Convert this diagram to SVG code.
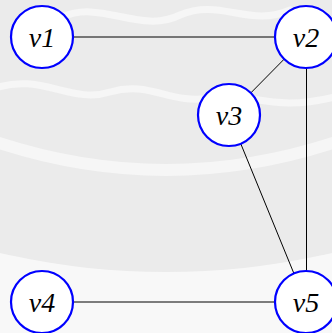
<svg xmlns="http://www.w3.org/2000/svg" width="332" height="333" viewBox="0 0 332 333">
<style>
.node circle{fill:#fff;stroke:#0000ff;stroke-width:2.2}
.node text{font-family:"Liberation Serif","DejaVu Serif",serif;font-style:italic;font-size:28px;text-anchor:middle;fill:#000}
.edges line{stroke:#000;stroke-width:1}
.wm{fill:none;stroke:#f6f6f6;stroke-linecap:round}
</style>
<rect width="332" height="333" fill="#f8f8f8"/>
<ellipse cx="166" cy="60" rx="400" ry="212" fill="#ebebeb"/>
<g class="wm">
<path d="M-10 140 Q166 200 342 140" stroke-width="12"/>
<path d="M-10 90 C40 70 70 105 110 92 C150 80 170 105 210 98 C250 90 270 115 342 95" stroke-width="7"/>
<path d="M60 18 C100 -2 140 35 180 15 C220 -2 250 28 290 10" stroke-width="7"/>
</g>
<g class="edges">
<line x1="42" y1="37" x2="306" y2="37"/>
<line x1="306" y1="37" x2="229" y2="115"/>
<line x1="306.5" y1="37" x2="306.5" y2="303"/>
<line x1="229" y1="115" x2="306" y2="303"/>
<line x1="42" y1="302" x2="306" y2="302" stroke-width="1.3"/>
</g>
<g id="v1" class="node"><circle cx="42" cy="37" r="31"/><text x="42" y="47">v1</text></g>
<g id="v2" class="node"><circle cx="306" cy="37" r="31"/><text x="306" y="47">v2</text></g>
<g id="v3" class="node"><circle cx="229" cy="115" r="31"/><text x="229" y="125">v3</text></g>
<g id="v4" class="node"><circle cx="42" cy="302" r="31"/><text x="42" y="312">v4</text></g>
<g id="v5" class="node"><circle cx="306" cy="302" r="31"/><text x="306" y="312">v5</text></g>
</svg>
